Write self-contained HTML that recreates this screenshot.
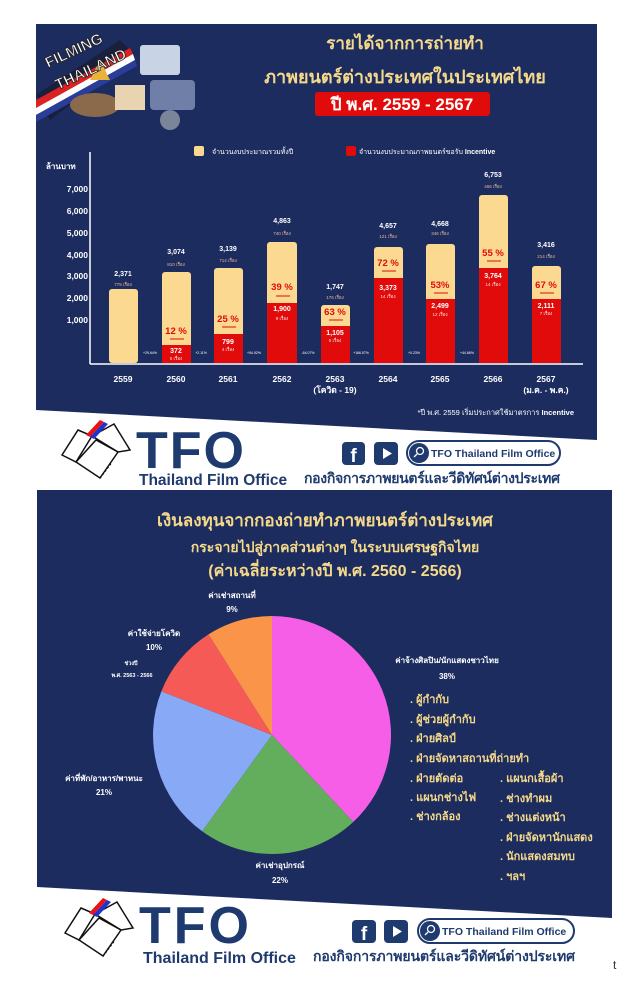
<!DOCTYPE html>
<html><head><meta charset="utf-8"><style>
html,body{margin:0;padding:0;background:#fff;width:630px;height:1000px;overflow:hidden}
svg{display:block}
text{font-family:"Liberation Sans","Noto Sans CJK SC",sans-serif}
</style></head><body>
<svg width="630" height="1000" viewBox="0 0 630 1000" xmlns="http://www.w3.org/2000/svg">
<!-- Top panel -->
<polygon points="36,24 597,24 597,440 36,410" fill="#1c2c5e"/>
<!-- illustration approximation -->
<g>
  <polygon points="36,95 120,40 135,55 50,120" fill="#1a1f3d"/>
  <polygon points="36,100 130,48 133,54 36,108" fill="#d22"/>
  <polygon points="36,108 133,54 135,60 36,115" fill="#fff"/>
  <polygon points="36,115 135,60 137,66 36,122" fill="#2a3d9a"/>
  <rect x="140" y="45" width="40" height="30" fill="#c9d3e6" rx="3"/>
  <rect x="150" y="80" width="45" height="30" fill="#6f7fa8" rx="4"/>
  <ellipse cx="95" cy="105" rx="25" ry="12" fill="#8a6a4a"/>
  <polygon points="90,80 100,60 110,80" fill="#e7b33a"/>
  <rect x="115" y="85" width="30" height="25" fill="#e8d4b0"/>
  <circle cx="170" cy="120" r="10" fill="#7b8599"/>
  <text x="48" y="68" font-size="15" font-weight="bold" fill="#fff" stroke="#222" stroke-width="0.8" transform="rotate(-25 48 68)">FILMING</text>
  <text x="58" y="90" font-size="15" font-weight="bold" fill="#fff" stroke="#222" stroke-width="0.8" transform="rotate(-25 58 90)">THAILAND</text>
</g>
<!-- Title -->
<text x="405" y="49" font-size="17" font-weight="bold" fill="#f5d98b" text-anchor="middle">รายได้จากการถ่ายทำ</text>
<text x="405" y="83" font-size="18" font-weight="bold" fill="#f5d98b" text-anchor="middle">ภาพยนตร์ต่างประเทศในประเทศไทย</text>
<rect x="315" y="92" width="175" height="24" rx="3" fill="#e10b0b"/>
<text x="402" y="110" font-size="17" font-weight="bold" fill="#fff" text-anchor="middle">ปี พ.ศ. 2559 - 2567</text>
<!-- legend -->
<rect x="194" y="146" width="10" height="10" rx="2" fill="#fcd990"/>
<text x="212" y="154" font-size="7" fill="#fff">จำนวนงบประมาณรวมทั้งปี</text>
<rect x="346" y="146" width="10" height="10" rx="2" fill="#e10b0b"/>
<text x="359" y="154" font-size="7" fill="#fff">จำนวนงบประมาณภาพยนตร์ขอรับ <tspan font-weight="bold">Incentive</tspan></text>
<!-- axes -->
<text x="46" y="169" font-size="8" font-weight="bold" fill="#fff">ล้านบาท</text>
<g font-size="8.5" font-weight="bold" fill="#fff" text-anchor="end">
<text x="88" y="192">7,000</text><text x="88" y="214">6,000</text><text x="88" y="236">5,000</text>
<text x="88" y="258">4,000</text><text x="88" y="279">3,000</text><text x="88" y="301">2,000</text><text x="88" y="323">1,000</text>
</g>
<line x1="90" y1="152" x2="90" y2="364" stroke="#fff" stroke-width="1.5"/>
<line x1="90" y1="364" x2="583" y2="364" stroke="#fff" stroke-width="1.5"/>
<!-- bars -->
<g fill="#fcd990">
<rect x="109" y="289" width="29" height="74" rx="3"/>
<rect x="162" y="272" width="29" height="91" rx="3"/>
<rect x="214" y="268" width="29" height="95" rx="3"/>
<rect x="267" y="242" width="30" height="121" rx="3"/>
<rect x="321" y="305" width="29" height="58" rx="3"/>
<rect x="374" y="247" width="29" height="116" rx="3"/>
<rect x="426" y="244" width="29" height="119" rx="3"/>
<rect x="479" y="195" width="29" height="168" rx="3"/>
<rect x="532" y="266" width="29" height="97" rx="3"/>
</g>
<g fill="#e10b0b">
<rect x="162" y="345" width="29" height="18"/>
<rect x="214" y="334" width="29" height="29"/>
<rect x="267" y="303" width="30" height="60"/>
<rect x="321" y="326" width="29" height="37"/>
<rect x="374" y="278" width="29" height="85"/>
<rect x="426" y="299" width="29" height="64"/>
<rect x="479" y="268" width="29" height="95"/>
<rect x="532" y="299" width="29" height="64"/>
</g>
<!-- top labels -->
<g font-size="7" font-weight="bold" fill="#fff" text-anchor="middle">
<text x="123" y="276">2,371</text><text x="176" y="254">3,074</text><text x="228" y="251">3,139</text>
<text x="282" y="223">4,863</text><text x="335" y="289">1,747</text><text x="388" y="228">4,657</text>
<text x="440" y="226">4,668</text><text x="493" y="177">6,753</text><text x="546" y="247">3,416</text>
</g>
<g font-size="4.5" fill="#e8b89a" text-anchor="middle">
<text x="123" y="286">779 เรื่อง</text><text x="176" y="266">810 เรื่อง</text><text x="228" y="262">714 เรื่อง</text>
<text x="282" y="235">740 เรื่อง</text><text x="335" y="299">176 เรื่อง</text><text x="388" y="238">121 เรื่อง</text>
<text x="440" y="235">346 เรื่อง</text><text x="493" y="188">466 เรื่อง</text><text x="546" y="258">214 เรื่อง</text>
</g>
<!-- percents -->
<g font-size="9.5" font-weight="bold" fill="#e10b0b" text-anchor="middle">
<text x="176" y="334">12 %</text><text x="228" y="322">25 %</text><text x="282" y="290">39 %</text>
<text x="335" y="315">63 %</text><text x="388" y="266">72 %</text><text x="440" y="288">53%</text>
<text x="493" y="256">55 %</text><text x="546" y="288">67 %</text>
</g>
<g stroke="#e10b0b" stroke-width="1">
<line x1="170" y1="339" x2="184" y2="339"/><line x1="222" y1="327" x2="236" y2="327"/><line x1="276" y1="296" x2="290" y2="296"/>
<line x1="329" y1="320" x2="343" y2="320"/><line x1="382" y1="271" x2="396" y2="271"/><line x1="434" y1="293" x2="448" y2="293"/>
<line x1="487" y1="261" x2="501" y2="261"/><line x1="540" y1="293" x2="554" y2="293"/>
</g>
<!-- red values -->
<g font-size="7" font-weight="bold" fill="#fff" text-anchor="middle">
<text x="176" y="353">372</text><text x="228" y="344">799</text><text x="282" y="311">1,900</text>
<text x="335" y="335">1,105</text><text x="388" y="290">3,373</text><text x="440" y="308">2,499</text>
<text x="493" y="278">3,764</text><text x="546" y="308">2,111</text>
</g>
<g font-size="4.5" fill="#fdd" text-anchor="middle">
<text x="176" y="360">6 เรื่อง</text><text x="228" y="351">4 เรื่อง</text><text x="282" y="320">9 เรื่อง</text>
<text x="335" y="342">5 เรื่อง</text><text x="388" y="298">14 เรื่อง</text><text x="440" y="316">12 เรื่อง</text>
<text x="493" y="286">14 เรื่อง</text><text x="546" y="315">7 เรื่อง</text>
</g>
<g font-size="3.5" fill="#fff" text-anchor="middle">
<text x="150" y="354">+29.64%</text><text x="201" y="354">+2.11%</text><text x="254" y="354">+54.92%</text>
<text x="308" y="354">-64.07%</text><text x="361" y="354">+166.57%</text><text x="414" y="354">+0.23%</text><text x="467" y="354">+44.66%</text>
</g>
<!-- x labels -->
<g font-size="8.5" font-weight="bold" fill="#fff" text-anchor="middle">
<text x="123" y="382">2559</text><text x="176" y="382">2560</text><text x="228" y="382">2561</text>
<text x="282" y="382">2562</text><text x="335" y="382">2563</text><text x="388" y="382">2564</text>
<text x="440" y="382">2565</text><text x="493" y="382">2566</text><text x="546" y="382">2567</text>
<text x="335" y="393">(โควิด - 19)</text><text x="546" y="393">(ม.ค. - พ.ค.)</text>
</g>
<text x="574" y="415" font-size="7.5" fill="#fff" text-anchor="end">*ปี พ.ศ. 2559 เริ่มประกาศใช้มาตรการ <tspan font-weight="bold">Incentive</tspan></text>

<!-- Logo band 1 -->
<g id="logo1">
  <g stroke="#111" stroke-width="1.5" fill="none">
    <polygon points="62,455 78,430 92,436 76,462"/>
    <polygon points="76,462 96,440 118,452 100,478"/>
    <polygon points="92,436 114,424 130,450 118,452"/>
    <line x1="100" y1="478" x2="112" y2="462" stroke-dasharray="2,2"/>
  </g>
  <polygon points="86,435 100,420 104,422 90,437" fill="#e11"/>
  <polygon points="90,437 104,422 108,424 94,439" fill="#2233cc"/>
  <text x="136" y="468" font-size="52" font-weight="bold" fill="#1f3a6e" letter-spacing="2">TFO</text>
  <text x="139" y="485" font-size="15.5" font-weight="bold" fill="#1f3a6e">Thailand Film Office</text>
  <rect x="342" y="442" width="23" height="23" rx="4" fill="#1f3a6e"/>
  <text x="353.5" y="462" font-size="19" font-weight="bold" fill="#fff" text-anchor="middle">f</text>
  <rect x="374" y="442" width="24" height="23" rx="4" fill="#1f3a6e"/>
  <polygon points="383,448 383,459 392,453.5" fill="#fff"/>
  <rect x="407" y="441" width="153" height="24" rx="12" fill="#fff" stroke="#1f3a6e" stroke-width="2"/>
  <circle cx="419" cy="453" r="10" fill="#1f3a6e"/>
  <circle cx="420" cy="451" r="3.5" fill="none" stroke="#fff" stroke-width="1.3"/>
  <line x1="417" y1="454" x2="414" y2="457" stroke="#fff" stroke-width="1.3"/>
  <text x="431" y="457" font-size="10.5" font-weight="bold" fill="#1f3a6e">TFO Thailand Film Office</text>
  <text x="304" y="483" font-size="14" font-weight="bold" fill="#1f3a6e" textLength="256">กองกิจการภาพยนตร์และวีดิทัศน์ต่างประเทศ</text>
</g>

<!-- Second panel -->
<polygon points="37,490 612,490 612,918 37,887" fill="#1c2c5e"/>
<text x="325" y="526" font-size="17" font-weight="bold" fill="#f5d98b" text-anchor="middle">เงินลงทุนจากกองถ่ายทำภาพยนตร์ต่างประเทศ</text>
<text x="335" y="552" font-size="14" font-weight="bold" fill="#f5d98b" text-anchor="middle">กระจายไปสู่ภาคส่วนต่างๆ ในระบบเศรษฐกิจไทย</text>
<text x="335" y="576" font-size="16" font-weight="bold" fill="#f5d98b" text-anchor="middle">(ค่าเฉลี่ยระหว่างปี พ.ศ. 2560 - 2566)</text>
<!-- pie: center 272,735 r 119 -->
<g transform="translate(272,735)">
  <path d="M0,0 L0,-119 A119,119 0 0 1 81.2,87.0 Z" fill="#f65ee8"/>
  <path d="M0,0 L81.2,87.0 A119,119 0 0 1 -69.9,96.3 Z" fill="#62ae5d"/>
  <path d="M0,0 L-69.9,96.3 A119,119 0 0 1 -110.6,-43.8 Z" fill="#87a9f6"/>
  <path d="M0,0 L-110.6,-43.8 A119,119 0 0 1 -63.5,-100.6 Z" fill="#f65a56"/>
  <path d="M0,0 L-63.5,-100.6 A119,119 0 0 1 0,-119 Z" fill="#f99448"/>
</g>
<g font-size="8" font-weight="bold" fill="#fff" text-anchor="middle">
  <text x="232" y="598">ค่าเช่าสถานที่</text><text x="232" y="612">9%</text>
  <text x="154" y="636">ค่าใช้จ่ายโควิด</text><text x="154" y="650">10%</text>
  <text x="131" y="665" font-size="5.5">ช่วงปี</text><text x="132" y="677" font-size="5.5">พ.ศ. 2563 - 2566</text>
  <text x="447" y="663">ค่าจ้างศิลปิน/นักแสดงชาวไทย</text><text x="447" y="679">38%</text>
  <text x="104" y="781">ค่าที่พัก/อาหาร/พาหนะ</text><text x="104" y="795">21%</text>
  <text x="280" y="868">ค่าเช่าอุปกรณ์</text><text x="280" y="883">22%</text>
</g>
<g font-size="11" font-weight="bold" fill="#f5d98b">
  <text x="410" y="703">. ผู้กำกับ</text>
  <text x="410" y="723">. ผู้ช่วยผู้กำกับ</text>
  <text x="410" y="742">. ฝ่ายศิลป์</text>
  <text x="410" y="762">. ฝ่ายจัดหาสถานที่ถ่ายทำ</text>
  <text x="410" y="782">. ฝ่ายตัดต่อ</text>
  <text x="410" y="801">. แผนกช่างไฟ</text>
  <text x="410" y="820">. ช่างกล้อง</text>
  <text x="500" y="782">. แผนกเสื้อผ้า</text>
  <text x="500" y="802">. ช่างทำผม</text>
  <text x="500" y="821">. ช่างแต่งหน้า</text>
  <text x="500" y="841">. ฝ่ายจัดหานักแสดง</text>
  <text x="500" y="860">. นักแสดงสมทบ</text>
  <text x="500" y="880">. ฯลฯ</text>
</g>

<!-- Logo band 2 -->
<g transform="translate(3,478)">
  <g stroke="#111" stroke-width="1.5" fill="none">
    <polygon points="62,455 78,430 92,436 76,462"/>
    <polygon points="76,462 96,440 118,452 100,478"/>
    <polygon points="92,436 114,424 130,450 118,452"/>
    <line x1="100" y1="478" x2="112" y2="462" stroke-dasharray="2,2"/>
  </g>
  <polygon points="86,435 100,420 104,422 90,437" fill="#e11"/>
  <polygon points="90,437 104,422 108,424 94,439" fill="#2233cc"/>
  <text x="136" y="465" font-size="52" font-weight="bold" fill="#1f3a6e" letter-spacing="3">TFO</text>
  <text x="140" y="485" font-size="16" font-weight="bold" fill="#1f3a6e">Thailand Film Office</text>
  <rect x="349" y="442" width="24" height="23" rx="4" fill="#1f3a6e"/>
  <text x="361" y="462" font-size="19" font-weight="bold" fill="#fff" text-anchor="middle">f</text>
  <rect x="381" y="442" width="24" height="23" rx="4" fill="#1f3a6e"/>
  <polygon points="390,448 390,459 399,453.5" fill="#fff"/>
  <rect x="415" y="441" width="156" height="24" rx="12" fill="#fff" stroke="#1f3a6e" stroke-width="2"/>
  <circle cx="427" cy="453" r="10" fill="#1f3a6e"/>
  <circle cx="428" cy="451" r="3.5" fill="none" stroke="#fff" stroke-width="1.3"/>
  <line x1="425" y1="454" x2="422" y2="457" stroke="#fff" stroke-width="1.3"/>
  <text x="439" y="457" font-size="10.5" font-weight="bold" fill="#1f3a6e">TFO Thailand Film Office</text>
  <text x="310" y="483" font-size="14" font-weight="bold" fill="#1f3a6e" textLength="262">กองกิจการภาพยนตร์และวีดิทัศน์ต่างประเทศ</text>
</g>
<text x="613" y="969" font-size="12" fill="#333">t</text>
</svg>
</body></html>
